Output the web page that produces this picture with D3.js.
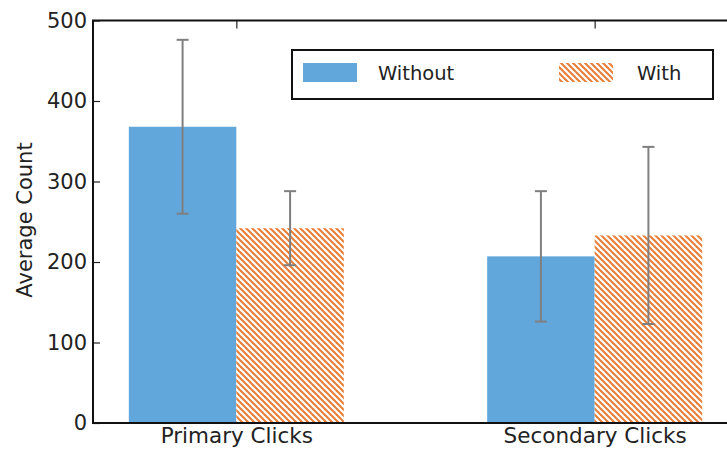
<!DOCTYPE html>
<html>
<head>
<meta charset="utf-8">
<script src="https://cdn.jsdelivr.net/npm/d3@7"></script>
<style>
  html, body { margin: 0; padding: 0; background: #fff; }
  svg { display: block; }
  text { font-family: "DejaVu Sans", sans-serif; fill: #222; }
</style>
</head>
<body>
<svg id="chart" width="727" height="450"></svg>
<script>
// Average click counts, without / with the feature, with error bar half-widths
const categories = ["Primary Clicks", "Secondary Clicks"];
const seriesNames = ["Without", "With"];
const withoutValues = [368, 207];
const withValues = [242, 233];
const withoutErrors = [108, 81];
const withErrors = [46, 110];
const yTicks = [0, 100, 200, 300, 400, 500];

const blue = "#62a7dc";
const orange = "#e8803a";

const svg = d3.select("#chart");
const plotLeft = 93, plotRight = 738, plotTop = 20.5, plotBottom = 423;

const x = d3.scaleLinear().domain([-0.4, 1.4]).range([plotLeft, plotRight]);
const y = d3.scaleLinear().domain([0, 500]).range([plotBottom, plotTop]);
const barW = 0.3;

// diagonal hatch for the "With" series
const defs = svg.append("defs");
const pat = defs.append("pattern")
  .attr("id", "hatch")
  .attr("patternUnits", "userSpaceOnUse")
  .attr("width", 6).attr("height", 6);
pat.append("rect").attr("width", 6).attr("height", 6).attr("fill", "#fff");
pat.selectAll("line").data([[-1, -1, 7, 7], [-4, 2, 2, 8], [4, -2, 10, 4]])
  .enter().append("line")
  .attr("x1", d => d[0]).attr("y1", d => d[1])
  .attr("x2", d => d[2]).attr("y2", d => d[3])
  .attr("stroke", orange).attr("stroke-width", 2.1);

const bars = [];
categories.forEach((c, i) => {
  bars.push({ x0: i - barW, value: withoutValues[i], err: withoutErrors[i], fill: blue });
  bars.push({ x0: i, value: withValues[i], err: withErrors[i], fill: "url(#hatch)" });
});

svg.append("g").selectAll("rect").data(bars).enter().append("rect")
  .attr("x", d => x(d.x0))
  .attr("width", d => x(d.x0 + barW) - x(d.x0))
  .attr("y", d => y(d.value))
  .attr("height", d => y(0) - y(d.value))
  .attr("fill", d => d.fill);

// error bars
const eb = svg.append("g").attr("stroke", "#7f7f7f").attr("stroke-width", 2);
bars.forEach(d => {
  const cx = x(d.x0 + barW / 2);
  eb.append("line").attr("x1", cx).attr("x2", cx)
    .attr("y1", y(d.value - d.err)).attr("y2", y(d.value + d.err));
  [d.value - d.err, d.value + d.err].forEach(v => {
    eb.append("line").attr("x1", cx - 6).attr("x2", cx + 6)
      .attr("y1", y(v)).attr("y2", y(v));
  });
});

// left axis with inward ticks
const yAxis = d3.axisLeft(y).tickValues(yTicks).tickSize(-7).tickPadding(6).tickFormat(d3.format("d"));
const gy = svg.append("g").attr("transform", `translate(${plotLeft},0)`).call(yAxis);
gy.select(".domain").remove();
gy.selectAll(".tick line").attr("stroke", "#222").attr("stroke-width", 1.2);
gy.selectAll(".tick text").attr("font-size", 21).attr("font-family", "DejaVu Sans").attr("fill", "#222");

// top axis ticks at category centres
const xTop = d3.axisTop(x).tickValues([0, 1]).tickSize(-8).tickFormat("");
const gt = svg.append("g").attr("transform", `translate(0,${plotTop})`).call(xTop);
gt.select(".domain").remove();
gt.selectAll(".tick line").attr("stroke", "#222").attr("stroke-width", 1.2);

// bottom category labels
const xBottom = d3.axisBottom(x).tickValues([0, 1]).tickSize(0).tickPadding(5)
  .tickFormat((d, i) => categories[i]);
const gb = svg.append("g").attr("transform", `translate(0,${plotBottom})`).call(xBottom);
gb.select(".domain").remove();
gb.selectAll(".tick text").attr("font-size", 21.5).attr("font-family", "DejaVu Sans").attr("fill", "#222");

// frame
svg.append("rect")
  .attr("x", plotLeft).attr("y", plotTop)
  .attr("width", plotRight - plotLeft).attr("height", plotBottom - plotTop)
  .attr("fill", "none").attr("stroke", "#111").attr("stroke-width", 2);

// y label
svg.append("text")
  .attr("transform", `translate(32,220) rotate(-90)`)
  .attr("text-anchor", "middle")
  .attr("font-size", 21)
  .text("Average Count");

// legend
const lg = svg.append("g");
lg.append("rect").attr("x", 292).attr("y", 50).attr("width", 421).attr("height", 49)
  .attr("fill", "#fff").attr("stroke", "#111").attr("stroke-width", 2);
const legendItems = [
  { name: seriesNames[0], fill: blue, px: 303, tx: 378 },
  { name: seriesNames[1], fill: "url(#hatch)", px: 559, tx: 637 }
];
legendItems.forEach(it => {
  lg.append("rect").attr("x", it.px).attr("y", 63).attr("width", 54).attr("height", 19).attr("fill", it.fill);
  lg.append("text").attr("x", it.tx).attr("y", 80).attr("font-size", 19.5).text(it.name);
});
</script>
</body>
</html>
